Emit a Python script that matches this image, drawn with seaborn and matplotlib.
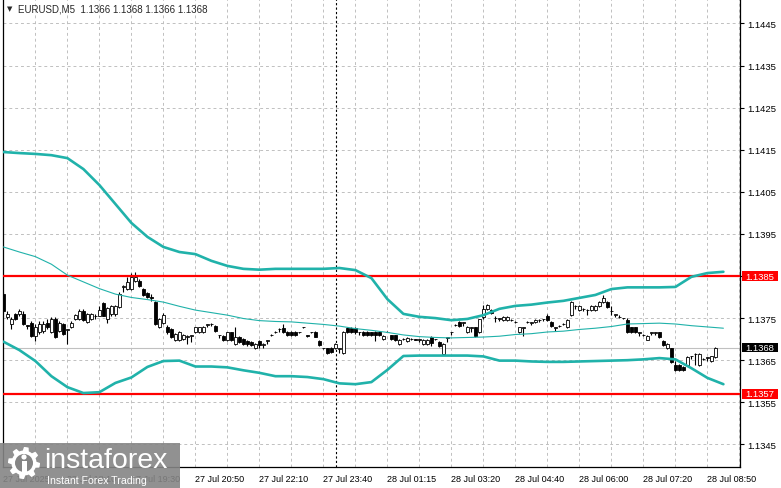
import numpy as np
import pandas as pd
import matplotlib
matplotlib.use("Agg")
import matplotlib.pyplot as plt
import matplotlib.transforms as mtransforms
from matplotlib.patches import Rectangle, Circle, Polygon
import seaborn as sns

BASE = 1.1300  # every value below is in pips above 1.1300

# EURUSD M5 candles, one entry per bar (bar 0 at the left edge)
opens = [80.7, 75.2, 73.6, 75.9, 75.9, 75.9, 73.3, 73.9, 70.7, 71.7,
         71.9, 73.8, 71.7, 74.7, 72.0, 73.6, 72.2, 72.9, 74.7, 74.7,
         76.8, 74.0, 74.7, 75.5, 75.6, 78.5, 74.7, 75.9, 75.9, 77.6,
         82.4, 81.9, 81.9, 83.7, 83.9, 81.9, 80.9, 79.9, 78.8, 72.9,
         73.8, 73.0, 72.4, 69.8, 69.8, 70.0, 70.6, 70.8, 71.6, 71.7,
         71.7, 73.4, 73.6, 73.2, 70.9, 70.8, 69.8, 71.6, 68.8, 70.5,
         70.0, 69.6, 69.4, 67.8, 69.6, 68.7, 69.5, 70.9, 71.6, 72.3,
         72.6, 71.7, 71.7, 71.7, 71.6, 72.8, 70.9, 71.6, 71.7, 69.6,
         67.9, 67.8, 68.0, 67.8, 67.7, 66.7, 72.6, 72.6, 72.6, 71.6,
         71.7, 71.7, 71.6, 71.7, 71.7, 70.0, 71.7, 70.9, 70.9, 68.8,
         70.0, 69.6, 70.0, 70.0, 69.9, 68.8, 68.8, 70.5, 70.0, 69.3,
         66.4, 70.3, 71.6, 73.3, 74.0, 73.9, 71.7, 72.7, 72.8, 71.7,
         75.2, 77.2, 77.0, 75.0, 74.9, 74.6, 74.6, 74.6, 74.0, 71.6,
         72.7, 74.0, 73.9, 74.0, 74.5, 74.7, 75.6, 74.0, 72.7, 73.1,
         73.6, 72.8, 75.7, 77.8, 77.0, 77.1, 76.9, 77.0, 77.0, 77.9,
         78.8, 78.8, 76.7, 75.8, 75.2, 75.0, 74.6, 72.8, 72.8, 71.5,
         71.0, 69.9, 71.5, 71.5, 71.6, 69.6, 67.8, 67.8, 63.9, 63.9,
         63.5, 63.9, 65.9, 66.4, 63.9, 65.3, 65.6, 64.8, 65.7]
highs = [81.2, 76.6, 75.2, 76.2, 77.1, 76.6, 73.4, 74.2, 73.6, 74.2,
         74.4, 74.7, 75.2, 75.2, 74.2, 73.9, 72.5, 74.2, 75.9, 77.1,
         77.1, 76.2, 76.2, 76.0, 77.9, 78.8, 77.6, 78.2, 78.1, 81.2,
         82.9, 84.7, 85.6, 85.9, 84.4, 82.2, 81.2, 80.7, 79.1, 75.0,
         76.3, 73.3, 72.6, 71.5, 71.9, 71.3, 71.0, 71.1, 73.0, 73.0,
         73.1, 73.7, 73.8, 73.4, 71.1, 71.0, 71.8, 71.8, 72.9, 70.8,
         70.3, 69.8, 69.6, 69.2, 69.8, 69.0, 69.8, 71.2, 71.9, 72.6,
         73.6, 71.9, 71.9, 71.9, 71.8, 73.0, 71.0, 71.8, 71.9, 69.8,
         68.0, 68.0, 68.2, 69.0, 68.0, 72.0, 72.8, 72.8, 72.8, 71.8,
         71.9, 71.9, 71.8, 71.9, 71.9, 71.0, 71.9, 71.1, 71.1, 70.1,
         70.2, 70.4, 70.2, 70.1, 70.1, 70.1, 70.1, 70.7, 70.1, 69.5,
         69.0, 70.5, 71.8, 73.5, 74.2, 74.1, 73.2, 72.9, 73.0, 74.9,
         78.1, 78.3, 77.2, 75.6, 75.1, 75.4, 75.4, 74.8, 74.2, 73.0,
         72.9, 74.2, 74.1, 74.8, 74.7, 74.9, 75.9, 74.2, 72.9, 73.3,
         73.8, 74.8, 79.0, 78.0, 78.0, 77.3, 77.1, 78.1, 78.1, 79.0,
         80.5, 79.0, 77.8, 76.0, 75.7, 75.1, 75.0, 73.0, 73.0, 71.7,
         71.2, 71.0, 71.7, 71.7, 71.8, 69.8, 69.0, 68.0, 64.9, 64.1,
         63.7, 66.0, 66.1, 66.6, 66.7, 65.5, 65.8, 66.1, 68.1]
lows = [76.3, 74.7, 72.4, 74.5, 75.6, 73.3, 72.4, 70.4, 69.6, 71.2,
        71.5, 72.4, 71.5, 70.2, 71.7, 70.9, 68.9, 72.7, 74.5, 74.5,
        74.2, 73.8, 74.5, 74.9, 75.4, 75.4, 73.8, 75.6, 75.6, 77.3,
        81.2, 81.6, 81.6, 83.5, 82.4, 80.3, 79.7, 79.0, 73.3, 72.6,
        73.5, 71.3, 70.2, 69.5, 69.5, 69.8, 68.9, 69.3, 71.4, 71.5,
        71.5, 72.9, 73.2, 71.8, 70.3, 69.6, 69.5, 69.5, 68.6, 69.2,
        68.5, 68.3, 68.4, 67.6, 67.8, 67.8, 68.9, 70.8, 71.4, 71.6,
        71.4, 70.7, 70.7, 70.7, 71.5, 72.6, 70.6, 71.5, 70.4, 68.4,
        67.6, 66.5, 66.7, 67.6, 66.6, 66.5, 71.5, 71.5, 71.3, 70.9,
        70.7, 70.7, 70.8, 69.6, 70.7, 69.8, 71.6, 69.8, 69.5, 68.6,
        69.8, 69.4, 69.8, 69.8, 69.3, 68.6, 68.6, 68.3, 69.8, 68.1,
        66.2, 69.3, 71.0, 73.2, 73.0, 73.2, 71.5, 71.7, 70.6, 71.5,
        74.9, 77.0, 76.0, 74.0, 74.3, 74.4, 74.4, 74.4, 73.8, 71.4,
        70.7, 73.8, 73.4, 73.8, 74.0, 74.2, 74.4, 72.9, 71.9, 72.9,
        73.4, 72.6, 75.5, 77.2, 76.8, 76.6, 75.7, 76.8, 76.8, 77.7,
        78.6, 77.4, 75.7, 75.3, 75.0, 74.9, 71.4, 71.4, 71.4, 70.8,
        70.8, 69.7, 71.0, 71.0, 70.2, 68.4, 67.6, 64.3, 62.5, 62.5,
        62.5, 63.7, 65.3, 63.9, 63.7, 65.1, 64.9, 64.6, 65.5]
closes = [76.6, 75.9, 74.7, 74.7, 76.8, 73.6, 73.1, 70.7, 72.9, 73.6,
          73.6, 72.9, 74.7, 70.5, 73.8, 71.2, 72.4, 73.8, 75.7, 76.8,
          74.5, 75.9, 75.9, 75.6, 76.9, 75.6, 77.3, 77.9, 77.8, 80.7,
          82.7, 83.5, 84.7, 84.7, 82.7, 80.6, 80.0, 79.8, 73.6, 74.7,
          75.8, 71.6, 70.5, 71.2, 71.6, 71.0, 70.8, 71.0, 72.8, 72.8,
          72.9, 73.6, 73.5, 72.0, 71.0, 69.8, 71.6, 69.8, 70.4, 69.4,
          68.8, 68.8, 68.6, 68.8, 68.6, 68.9, 69.7, 71.0, 71.7, 72.4,
          71.6, 70.9, 70.9, 70.9, 71.7, 72.8, 70.8, 71.7, 70.6, 68.6,
          67.8, 66.7, 66.9, 68.8, 67.9, 71.7, 71.7, 71.7, 71.7, 71.7,
          70.9, 70.9, 71.0, 70.9, 70.9, 70.8, 71.8, 70.0, 69.7, 69.9,
          70.0, 70.2, 70.0, 69.9, 70.0, 69.9, 69.9, 69.2, 70.0, 68.3,
          68.8, 70.4, 71.7, 73.4, 73.2, 74.0, 73.0, 72.8, 70.8, 74.7,
          77.1, 78.1, 76.2, 75.1, 75.0, 75.2, 75.2, 74.6, 74.0, 72.8,
          72.8, 74.0, 74.0, 74.6, 74.6, 74.8, 74.6, 73.1, 72.8, 73.1,
          73.6, 74.6, 78.8, 77.9, 77.8, 77.2, 77.0, 77.9, 77.9, 78.8,
          79.7, 77.6, 76.8, 75.9, 75.2, 75.0, 71.6, 71.6, 71.6, 71.6,
          71.0, 70.8, 71.6, 71.6, 70.4, 68.6, 68.8, 64.6, 62.7, 62.7,
          62.7, 65.7, 65.9, 66.5, 66.5, 65.3, 65.7, 65.9, 68.0]

# Bollinger bands (20)
band_bars = list(range(0, 181, 4))
upper = [114.45, 114.2, 114.0, 113.7, 113.0, 110.4, 106.6, 102.1, 97.6, 94.3,
         91.9, 90.7, 90.2, 88.6, 87.4, 86.7, 86.5, 86.7, 86.7, 86.7,
         86.7, 86.9, 86.4, 84.5, 79.5, 76.0, 75.3, 75.0, 74.5, 74.8,
         75.7, 77.2, 77.9, 78.2, 78.7, 79.1, 79.8, 80.5, 81.9, 82.3,
         82.3, 82.3, 82.4, 84.8, 85.7, 86.0]
middle = [91.9, 90.7, 89.6, 87.8, 85.2, 83.6, 82.0, 80.7, 79.9, 79.4,
          78.8, 77.8, 76.9, 76.3, 75.7, 74.9, 74.4, 74.2, 74.1, 73.8,
          73.5, 73.1, 72.5, 72.1, 71.6, 71.0, 70.6, 70.4, 70.3, 70.4,
          70.5, 70.7, 71.1, 71.3, 71.7, 71.9, 72.3, 72.6, 73.0, 73.6,
          73.7, 73.8, 73.6, 73.2, 72.9, 72.6]
lower = [69.4, 67.4, 64.8, 61.2, 58.6, 57.2, 57.4, 59.6, 60.9, 63.4,
         64.8, 64.9, 63.5, 63.5, 63.3, 62.6, 62.0, 61.2, 61.2, 61.0,
         60.5, 59.5, 59.3, 59.8, 62.7, 66.0, 66.1, 66.1, 66.1, 66.1,
         65.9, 64.9, 64.9, 64.7, 64.6, 64.6, 64.7, 64.8, 64.9, 65.0,
         65.2, 65.5, 65.2, 63.1, 60.8, 59.3]

# levels drawn on the chart
resistance = 1.1385
support = 1.1357
last_price = 1.1368
separator_bar = 83.25

price_ticks = [1.1345, 1.1355, 1.1365, 1.1375, 1.1385, 1.1395,
               1.1405, 1.1415, 1.1425, 1.1435, 1.1445]
time_ticks = [0, 16, 32, 48, 64, 80, 96, 112, 128, 144, 160, 176]
time_labels = ["27 Jul 2025", "27 Jul 18:10", "27 Jul 19:30", "27 Jul 20:50",
               "27 Jul 22:10", "27 Jul 23:40", "28 Jul 01:15", "28 Jul 03:20",
               "28 Jul 04:40", "28 Jul 06:00", "28 Jul 07:20", "28 Jul 08:50"]
title = "EURUSD,M5  1.1366 1.1368 1.1366 1.1368"

assert len(opens) == len(highs) == len(lows) == len(closes) == 179

sns.set_style("white")
plt.rcParams["font.family"] = ["Liberation Sans", "DejaVu Sans"]
TEAL = "#20b2aa"
FS = 6.8

W, H = 781, 489
fig = plt.figure(figsize=(W / 100, H / 100), dpi=100)
ax = fig.add_axes([3 / W, 21 / H, 737 / W, 468 / H])

candles = pd.DataFrame({"o": opens, "h": highs, "l": lows, "c": closes}) / 1e4 + BASE
candles["bar"] = np.arange(len(candles))
rising = candles["c"] >= candles["o"]

ax.vlines(candles["bar"], candles["l"], candles["h"], color="black", lw=0.8, zorder=3)
ax.bar(candles["bar"], (candles["c"] - candles["o"]).abs(),
       bottom=candles[["o", "c"]].min(axis=1), width=0.7,
       color=np.where(rising, "white", "black"), edgecolor="black",
       linewidth=0.6, zorder=4)

bands = pd.DataFrame({"bar": band_bars, "upper": upper, "middle": middle, "lower": lower})
for col in ["upper", "middle", "lower"]:
    bands[col] = bands[col] / 1e4 + BASE
for col, lw in [("upper", 1.9), ("middle", 0.8), ("lower", 1.9)]:
    sns.lineplot(data=bands, x="bar", y=col, color=TEAL, lw=lw, ax=ax, zorder=6)

ax.axhline(last_price, color="#c0c0c0", lw=0.8, zorder=2)
ax.axhline(resistance, color="#ff0000", lw=1.6, zorder=5)
ax.axhline(support, color="#ff0000", lw=1.6, zorder=5)
ax.axvline(separator_bar, color="black", lw=0.8, ls=(0, (2, 2)), zorder=2)

ax.set_xlim(-0.1, 184.15)
ax.set_ylim(1.133963, 1.14508)
ax.set_xlabel("")
ax.set_ylabel("")

# axes, ticks and grid in the MetaTrader look
ax.set_xticks(time_ticks)
ax.set_xticklabels(time_labels, ha="left", fontsize=6.5)
ax.set_xticks([t + 8 for t in time_ticks], minor=True)
ax.set_yticks(price_ticks)
# the 1.1385 scale label sits under the red level box, so it is left blank
ax.set_yticklabels(["" if p == resistance else f"{p:.4f}" for p in price_ticks], fontsize=FS)
ax.yaxis.tick_right()
ax.tick_params(axis="both", which="major", direction="out", length=3, width=0.8,
               pad=2, colors="black")
ax.tick_params(axis="both", which="minor", length=0)
ax.grid(True, which="both", color="#c0c0c0", ls=(0, (3, 3)), lw=0.7)
ax.set_axisbelow(True)
for side in ["left", "right", "bottom"]:
    ax.spines[side].set_color("black")
    ax.spines[side].set_linewidth(0.9)
ax.spines["top"].set_visible(False)

# price boxes on the right scale (about 36 x 9 px each)
blend = mtransforms.blended_transform_factory(ax.transAxes, ax.transData)
box_h = 0.000225
for price, face in [(resistance, "#ff0000"), (support, "#ff0000"), (last_price, "black")]:
    ax.add_patch(Rectangle((1 + 1.5 / 737, price - box_h / 2), 36 / 737, box_h,
                           transform=blend, fc=face, ec="none", clip_on=False, zorder=10))
    ax.text(1 + 5 / 737, price, f"{price:.4f}", transform=blend, color="white",
            fontsize=FS, va="center", ha="left", zorder=11)

fig.text(7 / W, 1 - 9 / H, "▼", fontsize=5, va="center", ha="left", family="DejaVu Sans")
fig.text(18 / W, 1 - 9 / H, title, fontsize=7, va="center", ha="left")

# watermark in the bottom left corner
ov = fig.add_axes([0, 0, 1, 1], zorder=20)
ov.set_xlim(0, W)
ov.set_ylim(H, 0)
ov.axis("off")
ov.patch.set_alpha(0)
ov.add_patch(Rectangle((0, 444), 180, 45, fc="#858585", ec="none", alpha=0.9))
ang = np.linspace(0, 2 * np.pi, 65)[:-1]
rad = np.where((np.arange(64) // 4) % 2 == 0, 16, 12.5)
ov.add_patch(Polygon(np.c_[24 + rad * np.cos(ang), 464 + rad * np.sin(ang)],
                     closed=True, fc="white", ec="none"))
ov.add_patch(Circle((24, 464), 9, fc="#858585", ec="none"))
ov.add_patch(Circle((24, 458), 2.6, fc="white", ec="none"))
ov.add_patch(Rectangle((21.5, 462), 5, 12, fc="white", ec="none"))
ov.text(44, 461, "instaforex", color="white", fontsize=20.5, va="center", ha="left")
ov.text(47, 481, "Instant Forex Trading", color="white", fontsize=7.6, va="center", ha="left")

fig.savefig("out.png", dpi=100)
